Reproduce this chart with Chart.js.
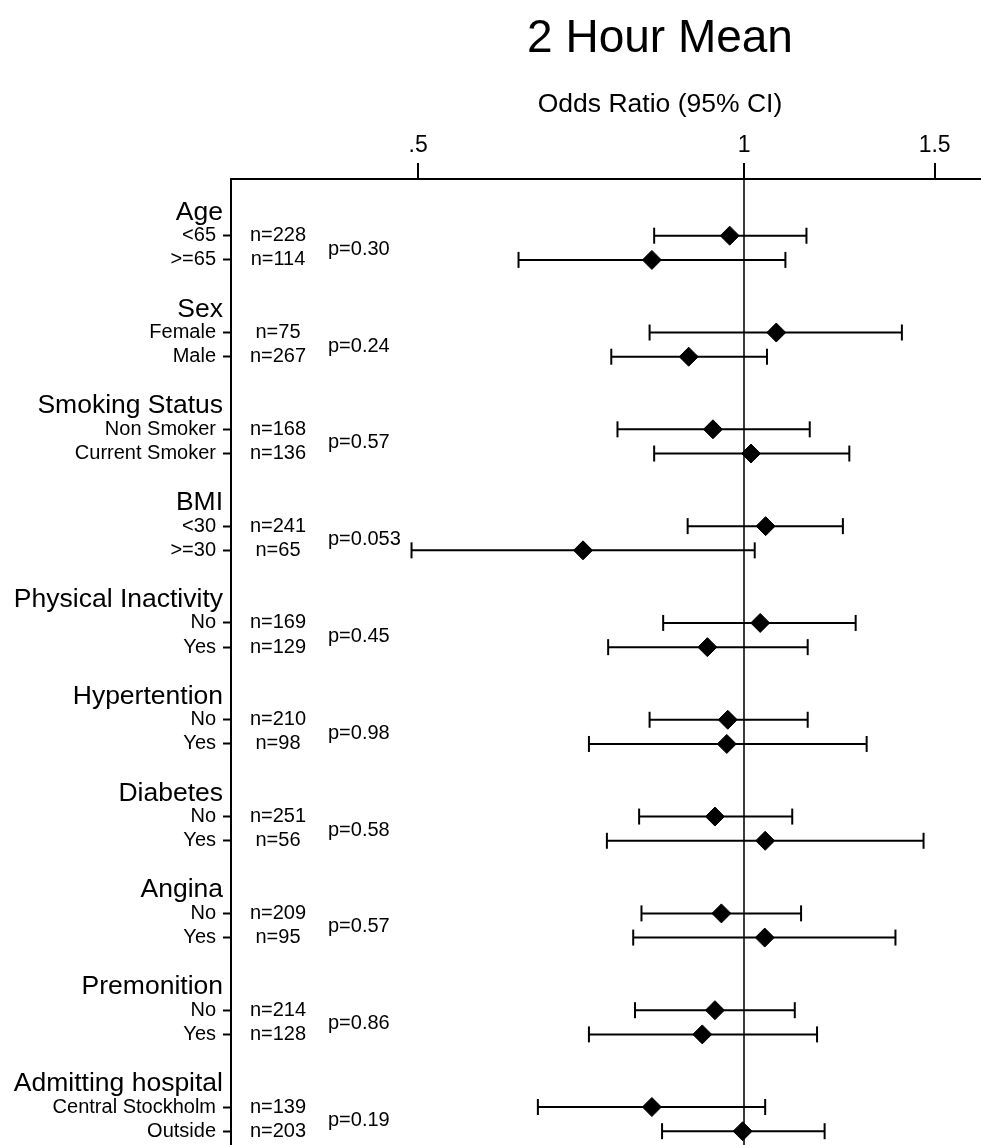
<!DOCTYPE html>
<html>
<head>
<meta charset="utf-8">
<title>2 Hour Mean</title>
<script src="https://cdn.jsdelivr.net/npm/chart.js@4"></script>
<style>
  html, body { margin: 0; padding: 0; background: #fff; overflow: hidden; }
  #forest { display: block; }
</style>
</head>
<body>
<canvas id="forest" width="981" height="1145"></canvas>
<script>
// ==============================
// Data
// ==============================
const groups = ["Age", "Sex", "Smoking Status", "BMI", "Physical Inactivity",
  "Hypertention", "Diabetes", "Angina", "Premonition", "Admitting hospital"];

const subLabels = ["<65", ">=65", "Female", "Male", "Non Smoker", "Current Smoker",
  "<30", ">=30", "No", "Yes", "No", "Yes", "No", "Yes", "No", "Yes", "No", "Yes",
  "Central Stockholm", "Outside"];

const nLabels = ["n=228", "n=114", "n=75", "n=267", "n=168", "n=136", "n=241", "n=65",
  "n=169", "n=129", "n=210", "n=98", "n=251", "n=56", "n=209", "n=95", "n=214", "n=128",
  "n=139", "n=203"];

const pLabels = ["p=0.30", "p=0.24", "p=0.57", "p=0.053", "p=0.45", "p=0.98",
  "p=0.58", "p=0.57", "p=0.86", "p=0.19"];

const oddsRatio = [0.970, 0.822, 1.071, 0.889, 0.936, 1.015, 1.047, 0.710, 1.035, 0.925,
  0.966, 0.964, 0.940, 1.046, 0.953, 1.045, 0.940, 0.915, 0.822, 0.997];
const ciLower = [0.826, 0.619, 0.818, 0.754, 0.764, 0.826, 0.887, 0.493, 0.842, 0.749,
  0.818, 0.719, 0.800, 0.747, 0.804, 0.790, 0.793, 0.719, 0.645, 0.840];
const ciUpper = [1.142, 1.092, 1.399, 1.050, 1.150, 1.251, 1.234, 1.023, 1.268, 1.145,
  1.145, 1.298, 1.108, 1.465, 1.129, 1.380, 1.114, 1.168, 1.046, 1.187];

const xTicks = [0.5, 1, 1.5];
const xTickLabels = [".5", "1", "1.5"];

// ==============================
// Layout: each group = header row, 2 subgroup rows, blank row
// ==============================
const FONT = '"Liberation Sans", Arial, Helvetica, sans-serif';
const rowPos = subLabels.map((_, i) => Math.floor(i / 2) * 4 + 1 + (i % 2));
const headerPos = groups.map((_, g) => g * 4);

const diamondData = oddsRatio.map((v, i) => ({ x: v, y: rowPos[i] }));

const ciSets = rowPos.map((y, i) => ({
  type: "line",
  data: [{ x: ciLower[i], y }, { x: ciUpper[i], y }],
  showLine: true,
  borderColor: "#000",
  borderWidth: 2,
  pointStyle: "line",
  rotation: 90,
  pointRadius: 8,
  pointBorderWidth: 2,
  pointBorderColor: "#000",
  order: 2
}));

// text outside the plot: title, group headers, n and p columns
const textPlugin = {
  id: "forestText",
  afterDraw(chart) {
    const ctx = chart.ctx;
    const ys = chart.scales.y;
    ctx.save();
    ctx.fillStyle = "#000";

    ctx.textAlign = "center";
    ctx.textBaseline = "alphabetic";
    ctx.font = "46px " + FONT;
    ctx.fillText("2 Hour Mean", 660, 52);
    ctx.font = "26.5px " + FONT;
    ctx.fillText("Odds Ratio (95% CI)", 660, 112);

    ctx.textBaseline = "middle";
    ctx.textAlign = "right";
    ctx.font = "26.5px " + FONT;
    groups.forEach((g, i) => ctx.fillText(g, 223, ys.getPixelForValue(headerPos[i]) + 1));

    ctx.textAlign = "center";
    ctx.font = "20px " + FONT;
    nLabels.forEach((n, i) => ctx.fillText(n, 278, ys.getPixelForValue(rowPos[i])));

    ctx.textAlign = "left";
    pLabels.forEach((p, g) => {
      const mid = (ys.getPixelForValue(rowPos[g * 2]) + ys.getPixelForValue(rowPos[g * 2 + 1])) / 2;
      ctx.fillText(p, 328, mid + 1.5);
    });
    ctx.restore();
  }
};

new Chart(document.getElementById("forest"), {
  type: "scatter",
  data: {
    datasets: [
      {
        data: diamondData,
        pointStyle: "rectRot",
        pointRadius: 9.5,
        pointBackgroundColor: "#000",
        pointBorderColor: "#000",
        pointBorderWidth: 1,
        order: 1
      },
      ...ciSets
    ]
  },
  options: {
    responsive: false,
    animation: false,
    layout: { padding: 0, autoPadding: false },
    plugins: { legend: { display: false }, tooltip: { enabled: false } },
    scales: {
      x: {
        type: "logarithmic",
        position: "top",
        bounds: "data",
        min: 0.3358,
        max: 1.6554,
        afterBuildTicks: (s) => { s.ticks = xTicks.map(v => ({ value: v })); },
        afterFit: (s) => { s.height = 179; s.paddingLeft = 0; s.paddingRight = 0; },
        ticks: {
          autoSkip: false,
          maxRotation: 0,
          padding: 4,
          color: "#000",
          font: { family: FONT, size: 23 },
          callback: (v) => xTickLabels[xTicks.indexOf(v)]
        },
        grid: {
          drawOnChartArea: true,
          color: (c) => (c.tick && c.tick.value === 1 ? "#3a3a3a" : "rgba(0,0,0,0)"),
          lineWidth: 2,
          tickColor: "#000",
          tickWidth: 2,
          tickLength: 16
        },
        border: { display: true, color: "#000", width: 2 }
      },
      y: {
        type: "linear",
        reverse: true,
        bounds: "data",
        min: -1.343,
        max: 38.57,
        afterBuildTicks: (s) => { s.ticks = rowPos.map(v => ({ value: v })); },
        afterFit: (s) => { s.width = 231; s.paddingTop = 0; s.paddingBottom = 0; },
        ticks: {
          autoSkip: false,
          padding: 7,
          color: "#000",
          font: { family: FONT, size: 20 },
          callback: (v) => subLabels[rowPos.indexOf(v)]
        },
        grid: {
          drawOnChartArea: false,
          tickColor: "#000",
          tickWidth: 2,
          tickLength: 8
        },
        border: { display: true, color: "#000", width: 2 }
      }
    }
  },
  plugins: [textPlugin]
});
</script>
</body>
</html>
